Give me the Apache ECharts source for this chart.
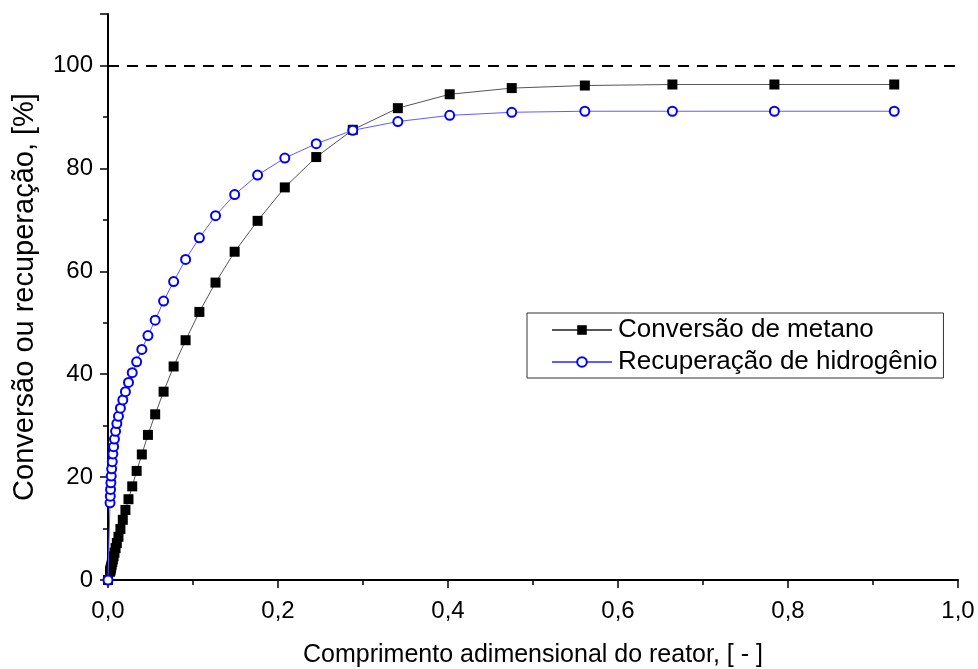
<!DOCTYPE html>
<html>
<head>
<meta charset="utf-8">
<script src="https://cdn.jsdelivr.net/npm/echarts@6/dist/echarts.min.js"></script>
<style>
  html, body { margin: 0; padding: 0; background: #fff; }
  #chart { width: 978px; height: 669px; }
</style>
</head>
<body>
<div id="chart"></div>
<script>
// Dimensionless reactor length (shared by both curves)
const comprimento = [0, 0.0024, 0.0027, 0.0030, 0.0034, 0.0038, 0.0043, 0.0050, 0.0057, 0.0066,
  0.0076, 0.0089, 0.0104, 0.0123, 0.0146, 0.0174, 0.0205, 0.0241, 0.0285, 0.0337,
  0.0398, 0.0470, 0.0555, 0.0654, 0.0772, 0.0913, 0.1075, 0.1265, 0.1490, 0.1760,
  0.2080, 0.2450, 0.2880, 0.3410, 0.4020, 0.4750, 0.5610, 0.6640, 0.7840, 0.9250];

// Methane conversion, %
const conversaoMetano = [0, 1.6, 1.8, 2.0, 2.3, 2.6, 3.0, 3.5, 4.0, 4.6,
  5.3, 6.2, 7.2, 8.4, 9.9, 11.7, 13.6, 15.7, 18.2, 21.2,
  24.4, 28.2, 32.2, 36.6, 41.5, 46.6, 52.1, 57.8, 63.8, 69.8,
  76.3, 82.2, 87.5, 91.7, 94.4, 95.6, 96.1, 96.3, 96.3, 96.3];

// Hydrogen recovery, %
const recuperacaoHidrogenio = [0, 15.0, 16.3, 17.6, 18.9, 20.2, 21.6, 23.0, 24.5, 25.9,
  27.4, 28.9, 30.4, 31.8, 33.4, 35.0, 36.6, 38.4, 40.3, 42.4,
  44.8, 47.5, 50.5, 54.2, 58.0, 62.3, 66.5, 70.8, 74.9, 78.7,
  82.0, 84.8, 87.4, 89.1, 90.3, 90.9, 91.1, 91.1, 91.1, 91.1];

const nomesSeries = ['Conversão de metano', 'Recuperação de hidrogênio'];
const limiteReferencia = 100;

const FONT = "'Liberation Sans', Arial, sans-serif";

function pares(xs, ys) {
  return xs.map((x, i) => [x, ys[i]]);
}

const chart = echarts.init(document.getElementById('chart'), null, { renderer: 'canvas' });

chart.setOption({
  backgroundColor: '#ffffff',
  animation: false,
  grid: { left: 108, right: 20, top: 14, bottom: 89, containLabel: false, outerBoundsMode: 'none' },
  legend: {
    orient: 'vertical',
    left: 527,
    top: 313,
    padding: [4, 6, 3, 24],
    itemGap: 6,
    itemWidth: 60,
    itemHeight: 12,
    borderColor: '#333',
    borderWidth: 1,
    backgroundColor: '#fff',
    textStyle: { fontFamily: FONT, fontSize: 26, color: '#000', padding: [0, 0, 0, 1] },
    data: nomesSeries
  },
  xAxis: {
    type: 'value',
    min: 0,
    max: 1,
    interval: 0.2,
    name: 'Comprimento adimensional do reator, [ - ]',
    nameLocation: 'middle',
    nameGap: 63,
    nameTextStyle: { fontFamily: FONT, fontSize: 25, color: '#000' },
    axisLine: { show: true, onZero: false, lineStyle: { color: '#000', width: 2 } },
    axisTick: { show: true, inside: false, length: 8, lineStyle: { color: '#000', width: 1.5 } },
    minorTick: { show: true, splitNumber: 2, length: 5, lineStyle: { color: '#000', width: 1.5 } },
    splitLine: { show: false },
    minorSplitLine: { show: false },
    axisLabel: {
      fontFamily: FONT, fontSize: 24, color: '#000', margin: 19,
      formatter: v => v.toFixed(1).replace('.', ',')
    }
  },
  yAxis: {
    type: 'value',
    min: 0,
    max: 110,
    interval: 20,
    name: 'Conversão ou recuperação, [%]',
    nameLocation: 'middle',
    nameGap: 69,
    nameRotate: 90,
    nameTextStyle: { fontFamily: FONT, fontSize: 29, color: '#000' },
    axisLine: { show: true, onZero: false, lineStyle: { color: '#000', width: 2 } },
    axisTick: { show: true, inside: false, length: 8, lineStyle: { color: '#000', width: 1.5 } },
    minorTick: { show: true, splitNumber: 2, length: 5, lineStyle: { color: '#000', width: 1.5 } },
    splitLine: { show: false },
    minorSplitLine: { show: false },
    axisLabel: {
      fontFamily: FONT, fontSize: 24, color: '#000', margin: 15,
      formatter: v => (v > 100 ? '' : String(v))
    }
  },
  series: [
    {
      name: nomesSeries[0],
      type: 'line',
      data: pares(comprimento, conversaoMetano),
      symbol: 'rect',
      symbolSize: 10,
      showAllSymbol: true,
      itemStyle: { color: '#000' },
      lineStyle: { color: '#555', width: 1 },
      z: 3,
      markLine: {
        silent: true,
        symbol: 'none',
        label: { show: false },
        lineStyle: { color: '#000', width: 2, type: [11, 8] },
        data: [{ yAxis: limiteReferencia }]
      }
    },
    {
      name: nomesSeries[1],
      type: 'line',
      data: pares(comprimento, recuperacaoHidrogenio),
      symbol: 'emptyCircle',
      symbolSize: 9,
      showAllSymbol: true,
      itemStyle: { color: '#0000ff', borderColor: '#0000ff', borderWidth: 2.2 },
      lineStyle: { color: '#5c5cff', width: 1 },
      z: 4
    }
  ]
});
</script>
</body>
</html>
